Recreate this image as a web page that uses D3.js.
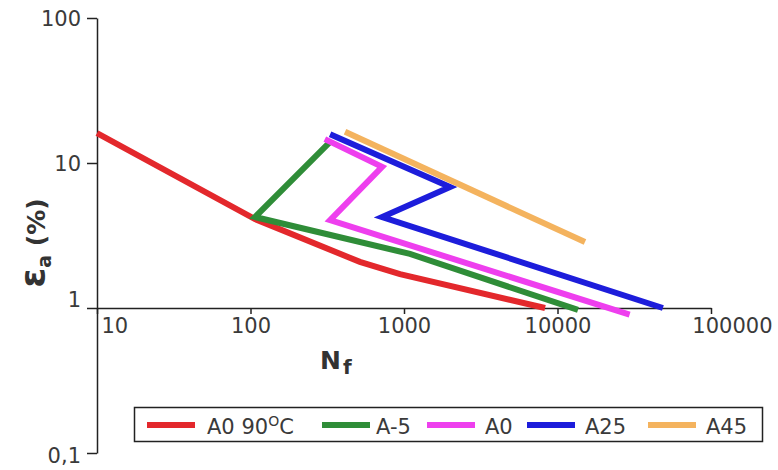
<!DOCTYPE html>
<html>
<head>
<meta charset="utf-8">
<script src="https://cdn.jsdelivr.net/npm/d3@7"></script>
<style>
	body { margin: 0; background: #fff; }
	svg { display: block; }
	.tick text, .legend text { font-family: 'DejaVu Sans', sans-serif; font-size: 21px; fill: #3a3a3a; }
	.domain, .tick line { stroke: #222; stroke-width: 1.5; }
	.title { font-family: 'DejaVu Sans', sans-serif; font-weight: bold; fill: #333; }
</style>
</head>
<body>
<svg id="chart"></svg>
<script>
// series (Nf, strain amplitude %)
const NAMES = ['A0 90', 'A-5', 'A0', 'A25', 'A45'];
const NF_A0_90 = [10, 107, 516, 942, 8300];
const EA_A0_90 = [16.1, 4.1, 2.08, 1.71, 1.0];
const NF_AM5 = [330, 107, 1094, 13600];
const EA_AM5 = [14.0, 4.24, 2.36, 0.97];
const NF_A0 = [305, 720, 330, 29500];
const EA_A0 = [14.6, 9.4, 4.04, 0.9];
const NF_A25 = [330, 1995, 720, 48600];
const EA_A25 = [15.8, 6.84, 4.24, 1.0];
const NF_A45 = [413, 15100];
const EA_A45 = [16.4, 2.85];
const X_TICKS = [10, 100, 1000, 10000, 100000];
const Y_TICKS = [0.1, 1, 10, 100];
const Y_LABELS = ['0,1', '1', '10', '100'];

const COLORS = ['#e3282c', '#2f8d38', '#ee3fee', '#1d1ddb', '#f4b35e'];

const W = 778;
const H = 470;

const svg = d3.select('#chart').attr('width', W).attr('height', H);

const x = d3.scaleLog().domain([10, 100000]).range([97, 711]);
const y = d3.scaleLog().domain([0.1, 100]).range([453, 18]);

const series = [
	[NF_A0_90, EA_A0_90],
	[NF_AM5, EA_AM5],
	[NF_A0, EA_A0],
	[NF_A25, EA_A25],
	[NF_A45, EA_A45]
].map(([nf, ea], i) => ({ name: NAMES[i], color: COLORS[i], pts: nf.map((n, j) => [n, ea[j]]) }));

// y axis
const $yAxis = svg.append('g')
	.attr('transform', `translate(${x(10)},0)`)
	.call(d3.axisLeft(y).tickValues(Y_TICKS).tickSize(10).tickSizeOuter(0).tickPadding(6)
		.tickFormat((d, i) => Y_LABELS[i]));
$yAxis.selectAll('.tick text')
	.attr('dy', d => (d === 1 ? '-0.05em' : d === 0.1 ? '0.45em' : '0.35em'));

// x axis at eps = 1
const $xAxis = svg.append('g')
	.attr('transform', `translate(0,${y(1)})`)
	.call(d3.axisBottom(x).tickValues(X_TICKS).tickSize(6).tickSizeOuter(0).tickPadding(6)
		.tickFormat(d3.format('d')));
$xAxis.selectAll('.tick text')
	.attr('text-anchor', d => (d === 10 ? 'start' : d === 100000 ? 'end' : 'middle'))
	.attr('x', d => (d === 10 ? 4 : d === 100000 ? 61 : 0))
	.attr('dy', '0.6em');

// lines
const line = d3.line().x(d => x(d[0])).y(d => y(d[1]));
svg.append('g')
	.selectAll('path')
	.data(series)
	.join('path')
	.attr('d', d => line(d.pts))
	.attr('fill', 'none')
	.attr('stroke', d => d.color)
	.attr('stroke-width', 6)
	.attr('stroke-linejoin', 'miter');

// axis titles
const $yt = svg.append('text')
	.attr('class', 'title')
	.attr('transform', 'translate(45,243) rotate(-90)')
	.attr('text-anchor', 'middle');
$yt.append('tspan').attr('font-size', 36).text('ε');
$yt.append('tspan').attr('font-size', 19).attr('dy', 6).text('a');
$yt.append('tspan').attr('font-size', 25).attr('dy', -6).text(' (%)');

const $xt = svg.append('text')
	.attr('class', 'title')
	.attr('x', 320)
	.attr('y', 369);
$xt.append('tspan').attr('font-size', 25).text('N');
$xt.append('tspan').attr('font-size', 20).attr('dx', 2).attr('dy', 5).text('f');

// legend
const $legend = svg.append('g').attr('class', 'legend');
$legend.append('rect')
	.attr('x', 134.5).attr('y', 407.5)
	.attr('width', 628).attr('height', 34)
	.attr('fill', '#fff').attr('stroke', '#222').attr('stroke-width', 1.5);

const LEG_X = [147, 322, 427, 527, 648];
const $item = $legend.selectAll('g.item')
	.data(series)
	.join('g')
	.attr('class', 'item')
	.attr('transform', (d, i) => `translate(${LEG_X[i]},425)`);
$item.append('line')
	.attr('x1', 0).attr('x2', 48)
	.attr('stroke', d => d.color).attr('stroke-width', 6);
const $lt = $item.append('text')
	.attr('x', (d, i) => (i === 0 ? 60 : i === 1 ? 54 : 58))
	.attr('y', 9);
$lt.append('tspan').text(d => d.name);
$lt.filter((d, i) => i === 0).append('tspan').attr('font-size', 14).attr('dy', -8).text('O');
$lt.filter((d, i) => i === 0).append('tspan').attr('dy', 8).text('C');
</script>
</body>
</html>
